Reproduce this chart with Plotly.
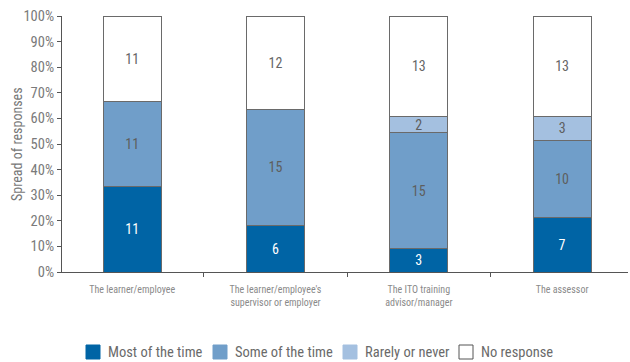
import plotly.graph_objects as go

# Who discussed progress with the learner, by category of person
categories = [
    "The learner/employee",
    "The learner/employee's<br>supervisor or employer",
    "The ITO training<br>advisor/manager",
    "The assessor",
]
most_of_time = [11, 6, 3, 7]
some_of_time = [11, 15, 15, 10]
rarely_never = [0, 0, 2, 3]
no_response = [11, 12, 13, 13]

series_names = ["Most of the time", "Some of the time", "Rarely or never", "No response"]
series_values = [most_of_time, some_of_time, rarely_never, no_response]
fill_colors = ["#0064a5", "#709ec9", "#a4c0e0", "#ffffff"]
label_colors = ["#ffffff", "#5e5e5e", "#5e5e5e", "#666666"]

totals = [sum(v) for v in zip(*series_values)]

FONT = "Liberation Sans Narrow, Roboto Condensed, Roboto, Arial, sans-serif"
EDGE = "#6a6a6a"

# plot-area geometry in pixels (used to place the legend and axis title)
W, H = 630, 362
L, R, T, B = 62, 2, 16, 90
PW, PH = W - L - R, H - T - B


def px_to_paper_x(px):
    return (px - L) / PW


def px_to_paper_y(py):
    return (H - B - py) / PH


fig = go.Figure()
for name, counts, fill, txt in zip(series_names, series_values, fill_colors, label_colors):
    pct = [c / t * 100 for c, t in zip(counts, totals)]
    fig.add_trace(go.Bar(
        name=name,
        x=categories,
        y=pct,
        text=[str(c) if c else "" for c in counts],
        textposition="inside",
        insidetextanchor="middle",
        textangle=0,
        textfont=dict(family=FONT, size=14, color=txt),
        marker=dict(color=fill, line=dict(color=EDGE, width=1)),
        hoverinfo="skip",
        showlegend=False,
    ))

# Legend drawn as swatches + labels along the bottom
legend_left = [86, 213, 343, 459]
swatch = 14
legend_cy = 352
shapes = []
annotations = []
for name, fill, x0 in zip(series_names, fill_colors, legend_left):
    shapes.append(dict(
        type="rect", xref="paper", yref="paper",
        x0=px_to_paper_x(x0), x1=px_to_paper_x(x0 + swatch),
        y0=px_to_paper_y(legend_cy + swatch / 2), y1=px_to_paper_y(legend_cy - swatch / 2),
        fillcolor=fill,
        line=dict(color="#555555" if fill == "#ffffff" else fill, width=1),
    ))
    annotations.append(dict(
        text=name, xref="paper", yref="paper",
        x=px_to_paper_x(x0 + swatch + 6), y=px_to_paper_y(legend_cy),
        xanchor="left", yanchor="middle", showarrow=False,
        font=dict(family=FONT, size=14.5, color="#6a6a6a"),
    ))

# y-axis title
annotations.append(dict(
    text="Spread of responses", xref="paper", yref="paper",
    x=px_to_paper_x(17), y=0.5, xanchor="center", yanchor="middle",
    textangle=-90, showarrow=False,
    font=dict(family=FONT, size=14, color="#777777"),
))

fig.update_layout(
    barmode="stack",
    bargap=0.595,
    width=W,
    height=H,
    margin=dict(l=L, r=R, t=T, b=B),
    paper_bgcolor="white",
    plot_bgcolor="white",
    font=dict(family=FONT, color="#777777"),
    uniformtext=dict(minsize=14, mode="show"),
    showlegend=False,
    shapes=shapes,
    annotations=annotations,
)

fig.update_xaxes(
    type="category",
    range=[-0.49, 3.46],
    showline=True,
    linecolor="#555555",
    linewidth=1,
    ticks="outside",
    tickson="boundaries",
    ticklen=4,
    tickcolor="#555555",
    ticklabelstandoff=8,
    tickfont=dict(family=FONT, size=10, color="#8a8a8a"),
    showgrid=False,
)

fig.update_yaxes(
    range=[0, 100],
    tickvals=list(range(0, 101, 10)),
    ticktext=[f"{v}%" for v in range(0, 101, 10)],
    showline=True,
    linecolor="#555555",
    linewidth=1,
    ticks="outside",
    ticklen=4,
    tickcolor="#555555",
    tickfont=dict(family=FONT, size=14.5, color="#7a7a7a"),
    showgrid=False,
    zeroline=False,
)

fig.write_html("out.html")
